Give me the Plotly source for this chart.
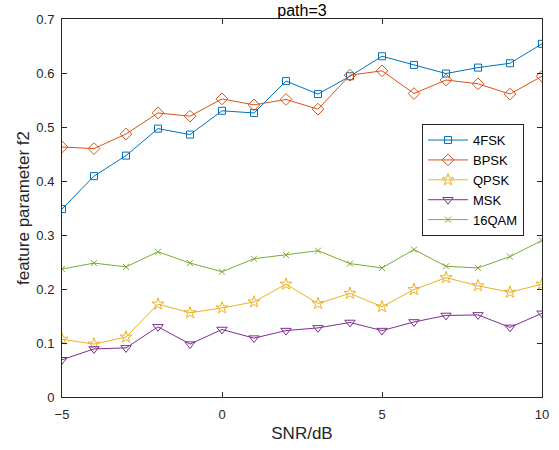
import plotly.graph_objects as go

snr = [-5, -4, -3, -2, -1, 0, 1, 2, 3, 4, 5, 6, 7, 8, 9, 10]
fsk4 = [0.348, 0.409, 0.447, 0.497, 0.486, 0.530, 0.526, 0.585, 0.561, 0.594, 0.631, 0.615, 0.599, 0.610, 0.618, 0.654]
bpsk = [0.463, 0.460, 0.487, 0.526, 0.520, 0.552, 0.541, 0.551, 0.533, 0.596, 0.604, 0.562, 0.587, 0.580, 0.561, 0.594]
qpsk = [0.107, 0.098, 0.111, 0.172, 0.156, 0.165, 0.176, 0.209, 0.173, 0.192, 0.167, 0.199, 0.221, 0.206, 0.194, 0.209]
msk = [0.069, 0.089, 0.091, 0.130, 0.098, 0.125, 0.109, 0.123, 0.128, 0.138, 0.123, 0.139, 0.151, 0.152, 0.129, 0.155]
qam16 = [0.237, 0.248, 0.241, 0.269, 0.248, 0.232, 0.256, 0.263, 0.271, 0.247, 0.239, 0.273, 0.242, 0.239, 0.260, 0.290]

series = [
    ("4FSK", fsk4, "#0072BD", "square-open", 7),
    ("BPSK", bpsk, "#D95319", "diamond-open", 9),
    ("QPSK", qpsk, "#EDB120", "star-open", 9),
    ("MSK", msk, "#7E2F8E", "triangle-down-open", 9),
    ("16QAM", qam16, "#77AC30", "x-thin-open", 6),
]

fig = go.Figure()
for name, ys, color, sym, size in series:
    fig.add_trace(go.Scatter(
        x=snr, y=ys, name=name, mode="lines+markers",
        line=dict(color=color, width=1),
        marker=dict(symbol=sym, size=size, color=color, line=dict(color=color, width=1)),
    ))

axis_common = dict(
    showline=True, linecolor="#262626", linewidth=1, mirror="ticks",
    ticks="inside", ticklen=5, tickcolor="#262626", showgrid=False, zeroline=False,
    automargin=False,
    tickfont=dict(family="Liberation Sans, Arial, sans-serif", size=13, color="#262626"),
)

fig.update_layout(
    width=559, height=450,
    margin=dict(l=62, r=17, t=19, b=53),
    paper_bgcolor="white", plot_bgcolor="white",
    font=dict(family="Liberation Sans, Arial, sans-serif", size=13, color="#262626"),
    title=dict(text="path=3", x=0.5, xref="paper", xanchor="center", y=0.978, yanchor="middle",
               font=dict(size=16, color="#000000")),
    xaxis=dict(range=[-5, 10], tickvals=[-5, 0, 5, 10], ticklabelstandoff=5,
               title=dict(text="SNR/dB", font=dict(size=17), standoff=6), **axis_common),
    yaxis=dict(range=[0, 0.7], tickvals=[0, 0.1, 0.2, 0.3, 0.4, 0.5, 0.6, 0.7],
               ticktext=["0", "0.1", "0.2", "0.3", "0.4", "0.5", "0.6", "0.7"],
               ticklabelstandoff=4,
               title=dict(text="feature parameter f2", font=dict(size=17), standoff=2), **axis_common),
    legend=dict(x=0.75, y=0.722, xanchor="left", yanchor="top",
                bgcolor="white", bordercolor="#262626", borderwidth=1,
                font=dict(size=13, color="#000000"), itemwidth=40, tracegroupgap=0),
    showlegend=True,
)

fig.write_html("out.html")
